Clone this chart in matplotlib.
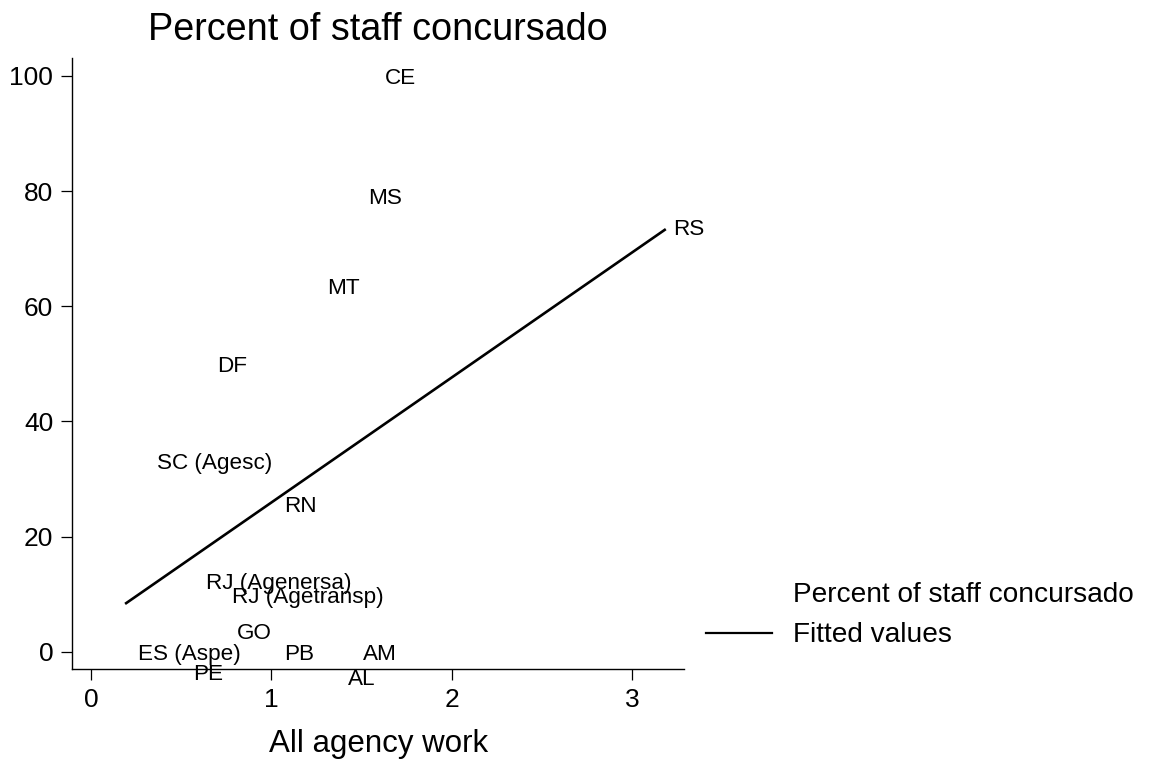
import matplotlib
matplotlib.use("Agg")
import matplotlib.pyplot as plt
from matplotlib.lines import Line2D

plt.rcParams['font.family'] = ['Liberation Sans', 'DejaVu Sans']

# ---- data ----
agencies = ["CE", "MS", "MT", "DF", "SC (Agesc)", "RN", "RJ (Agenersa)",
            "RJ (Agetransp)", "GO", "ES (Aspe)", "PB", "AM", "PE", "AL", "RS"]
all_agency_work = [1.59, 1.50, 1.27, 0.66, 0.33, 1.03, 0.60,
                   0.745, 0.77, 0.22, 1.03, 1.47, 0.647, 1.50, 3.19]
pct_concursado = [100, 79.2, 63.5, 50, 33.2, 25.7, 12.3,
                  9.8, 3.6, 0, 0, 0, 0, 0, 73.8]
# Stata-like marker label clock positions (3 = right, 6 = below)
label_clock = [3, 3, 3, 3, 3, 3, 3, 3, 3, 3, 3, 3, 6, 6, 3]
label_drop_pt = [0, 0, 0, 0, 0, 0, 0, 0, 0, 0, 0, 0, 14.3, 18.0, 0]

# fitted values (linear fit line)
fitted_x = [0.189, 3.187]
fitted_y = [8.3, 73.4]

xticks = [0, 1, 2, 3]
yticks = [0, 20, 40, 60, 80, 100]

W, H = 1151, 762
fig = plt.figure(figsize=(W / 100, H / 100), dpi=100)
ax = fig.add_axes([72.3 / W, 1 - 669.3 / H, (684 - 72.3) / W, (669.3 - 58.3) / H])

ax.plot(fitted_x, fitted_y, color='black', lw=1.9, solid_capstyle='butt')

LFS = 16.2
base_off = -0.358 * LFS
for name, x, y, pos, drop in zip(agencies, all_agency_work, pct_concursado,
                                 label_clock, label_drop_pt):
    if pos == 3:
        ax.annotate(name, (x, y), xytext=(5, base_off), textcoords='offset points',
                    ha='left', va='baseline', fontsize=LFS, color='black')
    else:
        ax.annotate(name, (x, y), xytext=(0, base_off - drop), textcoords='offset points',
                    ha='center', va='baseline', fontsize=LFS, color='black')

ax.set_xlim(-0.1037, 3.288)
ax.set_ylim(-3.06, 103.07)
ax.set_xticks(xticks)
ax.set_yticks(yticks)
ax.set_xticklabels([str(t) for t in xticks])
ax.set_yticklabels([str(t) for t in yticks])

for s in ['top', 'right']:
    ax.spines[s].set_visible(False)
for s in ['left', 'bottom']:
    ax.spines[s].set_linewidth(1.0)
    ax.spines[s].set_color('black')

ax.tick_params(axis='both', direction='out', length=7.8, width=0.9, color='black',
               labelsize=19, pad=6)

ax.set_xlabel("All agency work", fontsize=22.5, labelpad=12)
ax.set_title("Percent of staff concursado", fontsize=27.2, pad=13.2, loc='center')

# legend (Stata style, placed to the right of the plot)
fig.text(793 / W, 1 - 602 / H, "Percent of staff concursado", fontsize=20.2,
         ha='left', va='baseline')
fig.text(793 / W, 1 - 642 / H, "Fitted values", fontsize=20.2,
         ha='left', va='baseline')
fig.add_artist(Line2D([706 / W, 772 / W], [1 - 632.7 / H, 1 - 632.7 / H],
                      transform=fig.transFigure, color='black', lw=1.6))

fig.savefig("out.png", dpi=100, facecolor='white')
